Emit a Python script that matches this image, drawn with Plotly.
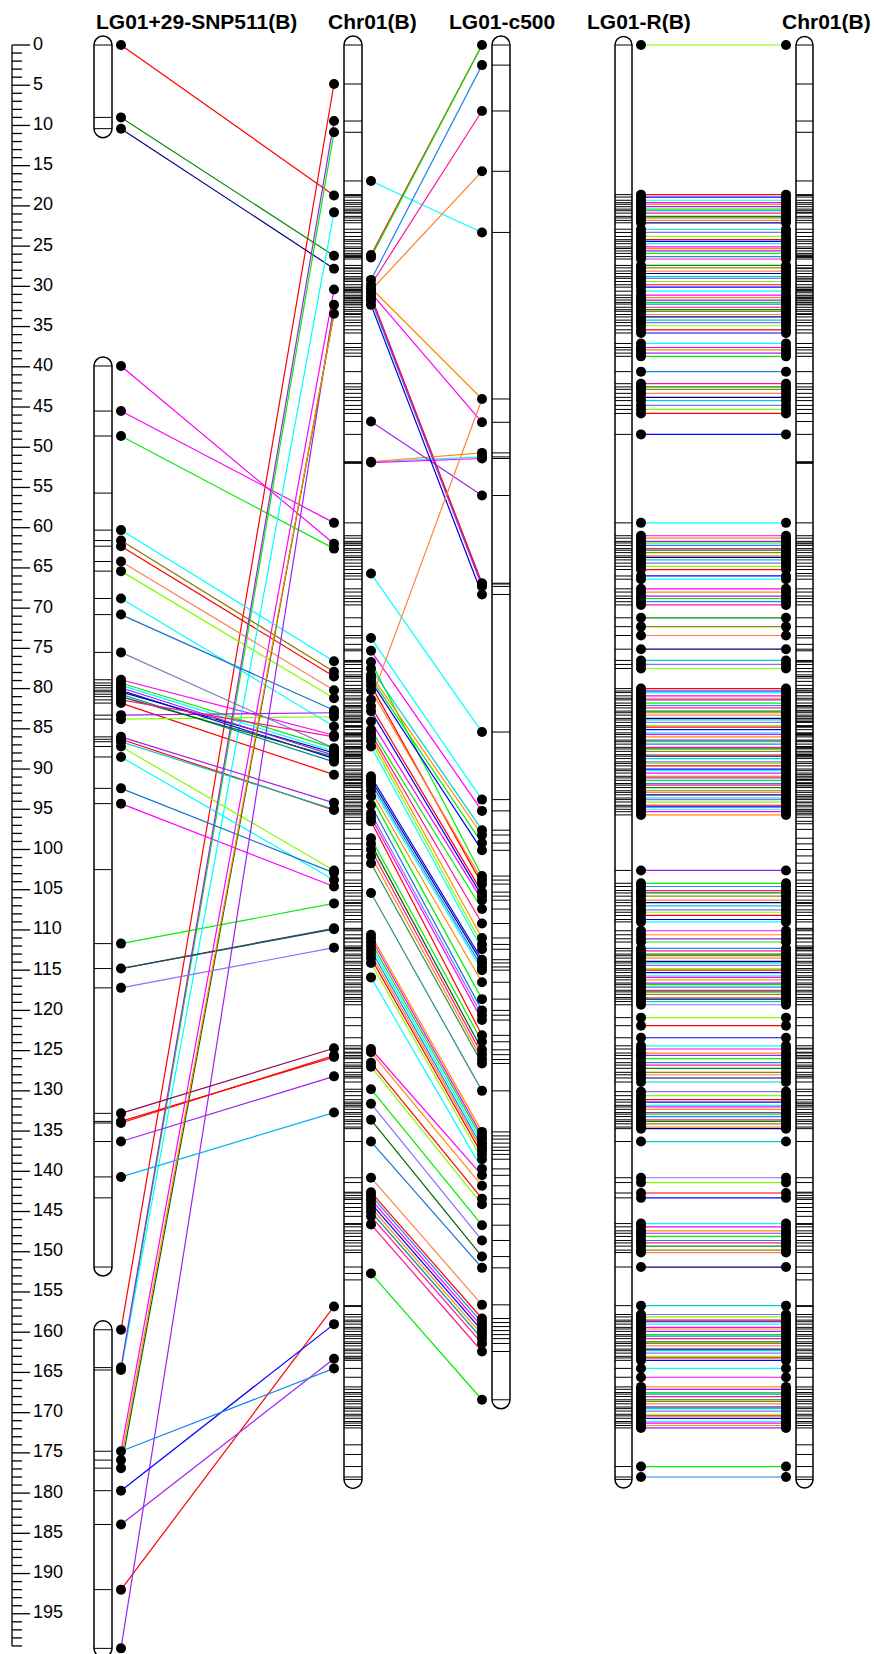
import plotly.graph_objects as go

# ---------------- data (positions in cM) ----------------
map_titles = ["LG01+29-SNP511(B)", "Chr01(B)", "LG01-c500", "LG01-R(B)", "Chr01(B)"]

lg29_segments = [(0.0, 10.4), (39.9, 151.9), (159.7, 199.3)]
lg29_extra_ticks = [55.7, 102.5, 143.3]
chr01_end = 178.3
c500_end = 168.4
lgr_end = 178.3

# panel 1 : LG01+29-SNP511(B) -> Chr01(B)
p1_lg29 = [0.0, 9.0, 10.4, 39.9, 45.5, 48.6, 60.3, 61.6, 62.3, 64.2, 65.4, 68.8, 70.8, 75.5,
           78.9, 79.3, 79.6, 79.9, 80.2, 80.4, 80.7, 81.0, 81.4, 81.8, 83.3, 83.8,
           86.0, 86.3, 86.6, 87.2, 88.5, 92.4, 94.3, 111.7, 114.8, 114.8, 117.2, 132.8, 133.8, 134.0, 136.3, 140.7,
           159.7, 164.4, 164.7, 164.7, 174.8, 175.9, 176.9, 199.3, 174.8, 179.7, 183.9, 192.0]
p1_chr = [18.7, 26.2, 27.8, 62.0, 59.4, 62.6, 76.6, 77.9, 78.5, 80.2, 81.2, 84.7, 82.7, 87.4,
          85.8, 87.4, 87.8, 88.3, 88.7, 88.0, 89.1, 88.5, 86.0, 90.7, 83.0, 83.5,
          94.2, 95.1, 95.0, 102.6, 103.8, 102.9, 104.6, 106.7, 109.8, 109.9, 112.2, 124.7, 125.8, 125.6, 128.2, 132.7,
          4.85, 9.45, 10.85, 20.8, 30.4, 33.4, 33.4, 32.3, 164.5, 159.0, 163.3, 156.8]
p1_col = ['#FF0000', '#008B00', '#000080', '#FF00FF', '#FF00FF', '#00EE00', '#00FFFF', '#8B7500', '#FF0000',
          '#FF7F50', '#7FFF00', '#00FFFF', '#1874CD', '#8080C0',
          '#FF00FF', '#00EE00', '#00FFFF', '#A020F0', '#0000FF', '#000080', '#008B8B', '#006400', '#FF1493',
          '#FF0000', '#A020F0', '#7FFF00',
          '#A020F0', '#FF0000', '#00C5CD', '#7FFF00', '#00FFFF', '#1874CD', '#FF00FF', '#00EE00', '#104E8B',
          '#2F4F4F', '#8470FF', '#8B0A50', '#FF0000', '#FF0000', '#A020F0', '#00B2EE',
          '#FF0000', '#A020F0', '#00EE00', '#00FFFF', '#FF00FF', '#FF8C00', '#006400', '#A020F0', '#1C86EE',
          '#0000FF', '#A020F0', '#FF0000']

# panel 2 : Chr01(B) -> LG01-c500
p2_chr = [16.9, 26.1, 26.4, 29.2, 29.8, 30.5, 30.2, 30.8, 31.2, 31.5, 31.8, 32.3, 46.8, 51.8, 51.8, 51.9, 65.7, 81.4,
          73.7, 75.3, 76.7, 77.5, 78.3, 78.7, 79.1, 79.6, 80.2, 82.2, 82.8, 84.1, 85.1, 85.6, 86.0, 86.5, 87.2,
          90.9, 91.3, 91.7, 92.1, 92.7, 93.4, 94.5, 95.5, 96.0, 96.5, 98.6, 99.3, 100.0, 100.8, 101.7, 105.4,
          110.6, 111.0, 111.5, 112.0, 112.5, 113.0, 113.5, 114.1, 115.9,
          124.8, 125.2, 126.5, 127.0, 129.8, 131.6, 133.6, 136.3,
          140.8, 142.6, 143.0, 143.5, 144.0, 144.5, 145.0, 145.6, 146.6, 152.7]
p2_c500 = [23.3, 0.0, 0.0, 2.5, 8.2, 15.7, 44.0, 46.9, 66.9, 67.3, 67.0, 68.3, 56.0, 50.7, 51.2, 51.4, 85.4, 44.0,
           93.8, 95.2, 103.3, 97.6, 98.2, 99.2, 100.1, 104.3, 103.8, 105.3, 105.8, 106.3, 107.4, 109.2, 111.0, 111.8, 112.4,
           113.7, 114.1, 114.6, 115.0, 116.5, 118.6, 120.0, 120.6, 121.2, 123.1, 123.9, 124.9, 125.5, 126.1, 126.6, 130.0,
           135.1, 135.6, 136.0, 136.5, 137.0, 137.4, 137.9, 138.5, 139.7,
           140.5, 141.8, 143.4, 144.1, 146.7, 148.6, 150.6, 152.0,
           156.6, 158.3, 158.8, 159.3, 159.8, 160.3, 160.8, 161.4, 162.4, 168.4]
p2_col = ['#00FFFF', '#FF0000', '#00EE00', '#1C86EE', '#FF1493', '#FF7F24', '#FF8C00', '#FF00FF', '#FF0000',
          '#A020F0', '#00FFFF', '#0000CD', '#A020F0', '#FF8C00', '#00FFFF', '#FF00FF', '#00FFFF', '#FF8247',
          '#00FFFF', '#FF00FF', '#00EE00', '#00CED1', '#FF8C00', '#00EE00', '#0000FF', '#FF0000', '#FF7F24',
          '#FF0000', '#0000FF', '#FF00FF', '#00EE00', '#FF1493', '#FF8C00', '#7FFF00', '#00FFFF',
          '#0000FF', '#00008B', '#1C86EE', '#00FFFF', '#FF8C00', '#00EE00', '#1874CD', '#8470FF', '#FF00FF',
          '#FF0000', '#00EE00', '#006400', '#FF1493', '#FF8C00', '#2E8B57', '#2E8B8B',
          '#FF8C00', '#FF00FF', '#00EE00', '#00FFFF', '#1C86EE', '#FF7F24', '#FF0000', '#7FFF00', '#00FFFF',
          '#FF00FF', '#FF8C00', '#FF0000', '#7FFF00', '#00EE00', '#8470FF', '#006400', '#1874CD',
          '#FF7F50', '#FF0000', '#1C86EE', '#FF00FF', '#0000FF', '#FF8C00', '#008B8B', '#FF1493', '#FF1493', '#00EE00']

# panel 3 : LG01-R(B) <-> Chr01(B) shared markers
lgr_pos = [0.0,
           18.6, 18.9, 19.3, 19.6, 19.8, 20.1, 20.4, 20.6, 20.9, 21.3, 21.5, 21.8, 22.1,
           22.9, 23.3,
           23.8, 24.2, 24.4, 24.7, 25.1, 25.3, 25.6, 25.9, 26.3, 26.6,
           27.4, 27.7, 28.1, 28.4, 28.8, 29.0, 29.4, 29.8, 30.1, 30.6,
           31.1, 31.4, 31.7, 32.0, 32.2, 32.6, 32.9, 33.1, 33.5, 33.8, 34.2, 34.5, 34.9, 35.4, 35.8,
           37.1, 37.6, 37.9, 38.3, 38.7,
           40.6,
           42.1, 42.5, 42.8, 43.3, 43.8, 44.2, 44.8, 45.3, 45.8,
           48.4,
           59.4,
           61.0, 61.3, 61.7, 61.9, 62.2, 62.6, 62.8, 63.1, 63.5, 63.7, 64.0, 64.4, 64.8, 65.2,
           66.0, 66.4,
           67.6, 68.0, 68.5, 68.8, 69.2, 69.6,
           71.2, 72.3, 73.4, 75.1,
           76.5, 77.0, 77.5,
           80.0, 80.3, 80.5, 80.9, 81.2, 81.4, 81.8, 82.1, 82.4, 82.8, 83.0, 83.3, 83.7, 83.9, 84.2, 84.6,
           84.8, 85.1, 85.5, 85.7, 86.0, 86.4, 86.6, 86.9, 87.3, 87.5, 87.8, 88.2, 88.4, 88.7, 89.1, 89.3,
           89.6, 90.0, 90.2, 90.5, 90.9, 91.1, 91.4, 91.8, 92.0, 92.3, 92.7, 92.9, 93.2, 93.6, 93.8, 94.1,
           94.5, 94.7, 95.0, 95.3, 95.7,
           102.6,
           104.2, 104.6, 105.1, 105.4, 105.8, 106.3, 106.6, 107.0, 107.5, 107.8, 108.2, 108.7, 109.0,
           110.1, 110.6, 111.1, 111.5,
           112.3, 112.6, 113.0, 113.2, 113.5, 113.9, 114.1, 114.4, 114.8, 115.0, 115.3, 115.7, 115.9,
           116.2, 116.6, 116.8, 117.1, 117.5, 117.7, 118.0, 118.4, 118.6, 118.9, 119.3,
           120.9, 121.9, 123.4,
           124.4, 124.8, 125.3, 125.6, 126.0, 126.5, 126.8, 127.2, 127.7, 128.0, 128.4, 128.9,
           130.1, 130.6,
           131.1, 131.4, 131.8, 132.0, 132.3, 132.7, 132.9, 133.2, 133.6, 133.8, 134.1, 134.5, 134.7,
           136.3,
           140.8, 141.4,
           142.7, 143.3,
           146.5, 146.9, 147.4, 147.7, 148.1, 148.6, 148.9, 149.3, 149.8, 150.1,
           151.9,
           156.7,
           157.8, 158.1, 158.5, 158.7, 159.0, 159.4, 159.6, 159.9, 160.3, 160.5, 160.8, 161.2, 161.4,
           161.7, 162.1, 162.3, 162.6, 163.0, 163.2, 163.5,
           164.5, 165.6,
           166.8, 167.1, 167.5, 167.7, 168.0, 168.4, 168.6, 168.9, 169.3, 169.5, 169.8, 170.2, 170.4,
           170.7, 171.1, 171.3, 171.6, 171.9,
           176.7, 178.0]
chr01_only_ticks = [4.85, 9.45, 10.85, 16.9, 46.8, 51.8, 52.0, 65.7, 73.7, 74.5, 96.8, 97.5, 98.6, 99.3,
                    100.0, 100.8, 101.7, 105.4, 152.7, 153.5, 174.0, 175.2, 178.3]

p3_palette = ['#7FFF00', '#FF0000', '#0000FF', '#00FFFF', '#FF00FF', '#FF8C00', '#A020F0', '#00EE00',
              '#1C86EE', '#FF1493', '#008B00', '#8B8B00', '#FF7F50', '#000080', '#00CED1', '#8470FF']

ruler_minor = list(range(0, 200))
ruler_major = list(range(0, 200, 5))

# ---------------- geometry / style ----------------
W, H = 874, 1654
Y_TOP = -45 / (H / 205.594)
Y_BOT = Y_TOP + 205.594
PX_PER_CM = H / (Y_BOT - Y_TOP)
FONT = "Liberation Sans Narrow, Arial Narrow, Liberation Sans, Arial"

BAR_LG29 = (94, 112)
BAR_CHRA = (344, 362)
BAR_C500 = (492, 510)
BAR_LGR = (615, 632)
BAR_CHRB = (796, 813)
DOT_LG29 = 121
DOT_CHRA_L = 334
DOT_CHRA_R = 371
DOT_C500 = 482
DOT_LGR = 641
DOT_CHRB = 786

fig = go.Figure()
shapes = []


def bar_path(x0, x1, y0, y1):
    cx = (x0 + x1) / 2
    rx = (x1 - x0) / 2
    ry = rx / PX_PER_CM
    k = 0.5523
    return (f"M{x0},{y0} L{x0},{y1} "
            f"C{x0},{y1 + k * ry} {cx - k * rx},{y1 + ry} {cx},{y1 + ry} "
            f"C{cx + k * rx},{y1 + ry} {x1},{y1 + k * ry} {x1},{y1} "
            f"L{x1},{y0} "
            f"C{x1},{y0 - k * ry} {cx + k * rx},{y0 - ry} {cx},{y0 - ry} "
            f"C{cx - k * rx},{y0 - ry} {x0},{y0 - k * ry} {x0},{y0} Z")


def add_bar(xs, y0, y1):
    shapes.append(dict(type="path", path=bar_path(xs[0], xs[1], y0, y1), xref="x", yref="y",
                       line=dict(color="black", width=1.5), fillcolor="white", layer="below"))


def add_ticks(xs, positions):
    tx, ty = [], []
    for p in positions:
        tx += [xs[0], xs[1], None]
        ty += [p, p, None]
    fig.add_trace(go.Scatter(x=tx, y=ty, mode="lines", line=dict(color="black", width=1),
                             hoverinfo="skip"))


def add_links(xa, ya, xb, yb, cols, width=1.2):
    groups = {}
    for a, b, c in zip(ya, yb, cols):
        g = groups.setdefault(c, ([], []))
        g[0].extend([xa, xb, None])
        g[1].extend([a, b, None])
    for c, (gx, gy) in groups.items():
        fig.add_trace(go.Scatter(x=gx, y=gy, mode="lines", line=dict(color=c, width=width),
                                 hoverinfo="skip"))


def add_dots(x, ys):
    u = sorted(set(ys))
    fig.add_trace(go.Scatter(x=[x] * len(u), y=u, mode="markers",
                             marker=dict(color="black", size=10), hoverinfo="skip"))


# bars
for s0, s1 in lg29_segments:
    add_bar(BAR_LG29, s0, s1)
add_bar(BAR_CHRA, 0.0, chr01_end)
add_bar(BAR_C500, 0.0, c500_end)
add_bar(BAR_LGR, 0.0, lgr_end)
add_bar(BAR_CHRB, 0.0, chr01_end)

# ticks inside bars
lg29_ticks = sorted(set(p1_lg29 + lg29_extra_ticks + [s for seg in lg29_segments for s in seg]))
chr01_ticks = sorted(set(lgr_pos + chr01_only_ticks + p1_chr + p2_chr + [0.0]))
c500_ticks = sorted(set(p2_c500 + [0.0, c500_end]))
lgr_ticks = sorted(set(lgr_pos + [lgr_end]))
add_ticks(BAR_LG29, lg29_ticks)
add_ticks(BAR_CHRA, chr01_ticks)
add_ticks(BAR_C500, c500_ticks)
add_ticks(BAR_LGR, lgr_ticks)
add_ticks(BAR_CHRB, chr01_ticks)

# links
add_links(DOT_LG29, p1_lg29, DOT_CHRA_L, p1_chr, p1_col)
add_links(DOT_CHRA_R, p2_chr, DOT_C500, p2_c500, p2_col)
p3_col = [p3_palette[i % len(p3_palette)] for i in range(len(lgr_pos))]
add_links(DOT_LGR, lgr_pos, DOT_CHRB, lgr_pos, p3_col, width=1.2)

# dots
add_dots(DOT_LG29, p1_lg29)
add_dots(DOT_CHRA_L, p1_chr)
add_dots(DOT_CHRA_R, p2_chr)
add_dots(DOT_C500, p2_c500)
add_dots(DOT_LGR, lgr_pos)
add_dots(DOT_CHRB, lgr_pos)

# ruler
RX = 12
rx, ry = [RX, RX, None], [ruler_minor[0], ruler_minor[-1], None]
for v in ruler_minor:
    ln = 18 if v in ruler_major else 10
    rx += [RX, RX + ln, None]
    ry += [v, v, None]
fig.add_trace(go.Scatter(x=rx, y=ry, mode="lines", line=dict(color="black", width=1.3), hoverinfo="skip"))
fig.add_trace(go.Scatter(x=[33] * len(ruler_major), y=ruler_major, mode="text",
                         text=[str(v) for v in ruler_major], textposition="middle right",
                         textfont=dict(family=FONT, size=18, color="black"),
                         hoverinfo="skip"))

# titles
title_x = [196, 372, 502, 639, 826]
annotations = []
for t, x in zip(map_titles, title_x):
    annotations.append(dict(x=x, y=Y_TOP + 21 / PX_PER_CM, xref="x", yref="y", text=f"<b>{t}</b>",
                            showarrow=False, xanchor="center", yanchor="middle",
                            font=dict(family=FONT, size=21, color="black")))

fig.update_layout(
    width=W, height=H, margin=dict(l=0, r=0, t=0, b=0),
    paper_bgcolor="white", plot_bgcolor="white", showlegend=False,
    xaxis=dict(range=[0, W], visible=False, fixedrange=True),
    yaxis=dict(range=[Y_BOT, Y_TOP], visible=False, fixedrange=True),
    shapes=shapes, annotations=annotations,
)

fig.write_html("out.html")
